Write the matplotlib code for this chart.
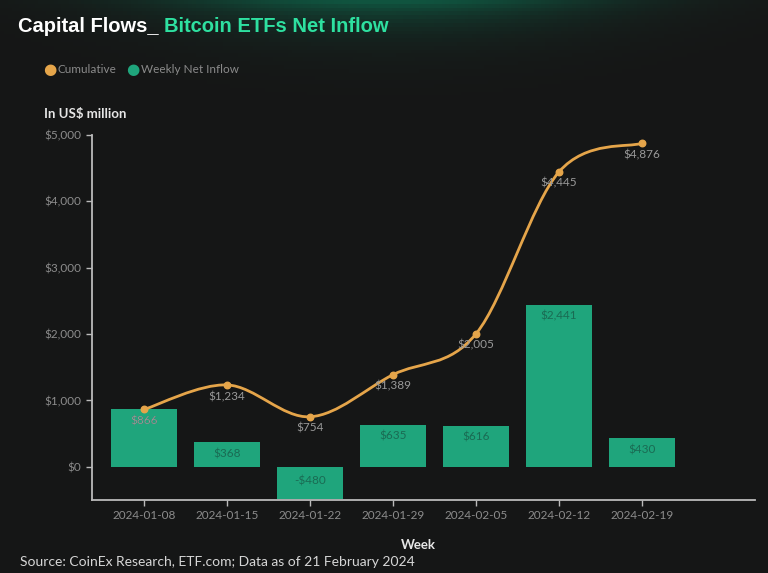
import numpy as np
import matplotlib
matplotlib.use('Agg')
import matplotlib.pyplot as plt
from matplotlib.path import Path
from matplotlib.patches import PathPatch

plt.rcParams['font.family'] = ['Lato', 'DejaVu Sans']

weeks = ['2024-01-08', '2024-01-15', '2024-01-22', '2024-01-29',
         '2024-02-05', '2024-02-12', '2024-02-19']
weekly = [866, 368, -480, 635, 616, 2441, 430]
cumulative = [866, 1234, 754, 1389, 2005, 4445, 4876]

bg = '#161616'
bar_col = '#1fa57c'
line_col = '#e5a54a'
tick_col = '#8c8c8c'

fig = plt.figure(figsize=(7.68, 5.73), dpi=100, facecolor=bg)

# soft green glow at the top
glow_ax = fig.add_axes([0, 0, 1, 1], zorder=-1)
gx, gy = np.meshgrid(np.linspace(-1, 1, 200), np.linspace(0, 1, 150))
glow = np.exp(-(gx ** 2) / 0.35) * np.exp(-gy / 0.04)
rgb = np.zeros((150, 200, 3))
base = np.array([0x16, 0x16, 0x16]) / 255
green = np.array([0x10, 0x55, 0x40]) / 255
for k in range(3):
    rgb[:, :, k] = base[k] + (green[k] - base[k]) * glow
glow_ax.imshow(rgb, extent=[0, 1, 0, 1], aspect='auto', origin='upper')
glow_ax.axis('off')

ax = fig.add_axes([0.1198, 0.1274, 0.863, 0.637])
ax.set_facecolor('none')

x = np.arange(len(weeks))
bars = ax.bar(x, weekly, width=0.8, color=bar_col, zorder=2)
for xi, v in zip(x, weekly):
    ax.text(xi, v - 90 if v > 0 else -130, f"${v:,}" if v >= 0 else f"-${-v:,}",
            ha='center', va='top', fontsize=8.5, color='#1a6b53', zorder=3)

# smooth cumulative line (Catmull-Rom as cubic Bezier)
pts = np.column_stack([x, cumulative]).astype(float)
ext = np.vstack([pts[0], pts, pts[-1]])
verts = [tuple(pts[0])]
codes = [Path.MOVETO]
for i in range(len(pts) - 1):
    p0, p1, p2, p3 = ext[i], ext[i + 1], ext[i + 2], ext[i + 3]
    c1 = p1 + (p2 - p0) / 6
    c2 = p2 - (p3 - p1) / 6
    verts += [tuple(c1), tuple(c2), tuple(p2)]
    codes += [Path.CURVE4] * 3
ax.add_patch(PathPatch(Path(verts, codes), fill=False, edgecolor=line_col, lw=2, zorder=4))
ax.scatter(x, cumulative, s=22, color=line_col, zorder=5)
for xi, v in zip(x, cumulative):
    ax.text(xi, v - 90, f"${v:,}", ha='center', va='top', fontsize=8.5, color='#9a9a9a', zorder=6)

ax.set_xlim(-0.63, 7.36)
ax.set_ylim(-500, 5000)
ax.set_yticks([0, 1000, 2000, 3000, 4000, 5000])
ax.set_yticklabels(['$0', '$1,000', '$2,000', '$3,000', '$4,000', '$5,000'])
ax.set_xticks(x)
ax.set_xticklabels(weeks)
ax.tick_params(colors='#bbbbbb', labelcolor=tick_col, labelsize=8.5, length=4, width=1)
for s in ['top', 'right']:
    ax.spines[s].set_visible(False)
for s in ['left', 'bottom']:
    ax.spines[s].set_color('#bbbbbb')
    ax.spines[s].set_linewidth(1.3)

title_font = ['Liberation Sans', 'DejaVu Sans']
fig.text(18 / 768, 1 - 27 / 573, 'Capital Flows_ ', fontsize=14.5, fontweight='bold',
         family=title_font, color='white', va='center', ha='left')
t = fig.texts[-1]
fig.canvas.draw()
bb = t.get_window_extent()
fig.text(bb.x1 / 768, 1 - 27 / 573, 'Bitcoin ETFs Net Inflow', fontsize=14.5, fontweight='bold',
         family=title_font, color='#2ee0a0', va='center', ha='left')

# legend
fig.text(43 / 768, 1 - 70 / 573, '●', fontsize=11, color=line_col, va='center', ha='left',
         family='DejaVu Sans')
fig.text(57 / 768, 1 - 70 / 573, 'Cumulative', fontsize=8.5, color='#8a8a8a', va='center', ha='left')
fig.text(126 / 768, 1 - 70 / 573, '●', fontsize=11, color=bar_col, va='center', ha='left',
         family='DejaVu Sans')
fig.text(141 / 768, 1 - 70 / 573, 'Weekly Net Inflow', fontsize=8.5, color='#8a8a8a', va='center', ha='left')

fig.text(44 / 768, 1 - 114 / 573, 'In US$ million', fontsize=9.5, fontweight='bold',
         color='#e6e6e6', va='center', ha='left')
fig.text(418 / 768, 1 - 545 / 573, 'Week', fontsize=9.5, fontweight='bold',
         color='#e6e6e6', va='center', ha='center')
fig.text(20 / 768, 1 - 562 / 573, 'Source: CoinEx Research, ETF.com; Data as of 21 February 2024',
         fontsize=10, color='#d6d6d6', va='center', ha='left')

fig.savefig('out.png', dpi=100, facecolor=bg)
